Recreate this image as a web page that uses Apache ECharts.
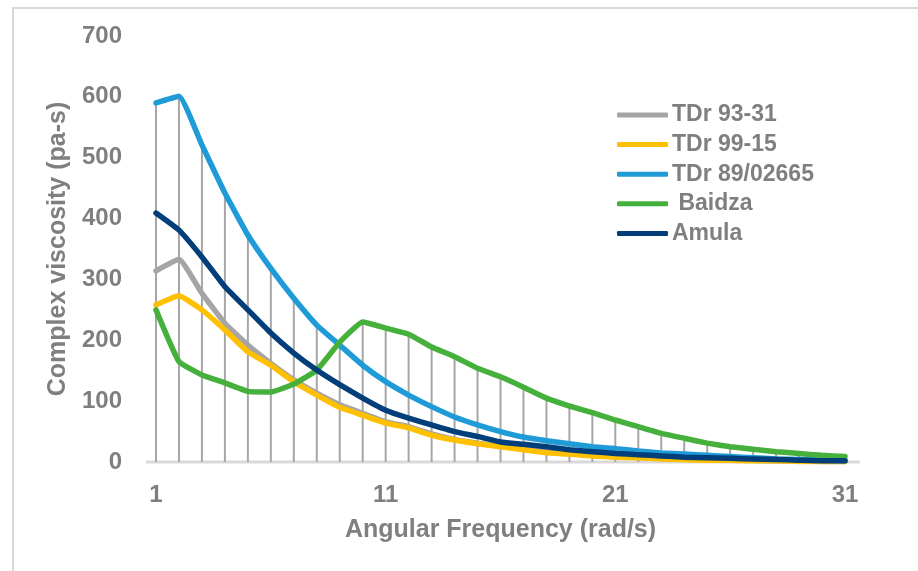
<!DOCTYPE html>
<html>
<head>
<meta charset="utf-8">
<script src="https://cdn.jsdelivr.net/npm/echarts@6/dist/echarts.min.js"></script>
<style>
html,body{margin:0;padding:0;background:#fff;}
#c{width:918px;height:571px;}
</style>
</head>
<body>
<div id="c"></div>
<script>
var categories = [];
for (var i = 1; i <= 31; i++) categories.push(String(i));

var seriesNames = ['TDr 93-31', 'TDr 99-15', 'TDr 89/02665', ' Baidza', 'Amula'];
var tdr9331 = [314, 333, 277, 228, 192, 162, 135, 113, 94, 80, 66, 58, 46, 37, 31, 26, 21, 16, 14, 11, 9, 8, 6, 5, 4, 3, 3, 2, 2, 1, 1];
var tdr9915 = [258, 273, 250, 217, 181, 159, 132, 110, 90, 77, 64, 56, 44, 36, 30, 25, 20, 15, 13, 10, 8, 7, 5, 4, 3, 3, 2, 2, 1, 1, 1];
var tdr8902665 = [590, 601, 521, 442, 373, 318, 269, 225, 192, 159, 132, 110, 91, 74, 61, 50, 41, 35, 30, 25, 22, 18, 15, 13, 11, 9, 7, 5, 4, 3, 2];
var baidza = [250, 165, 143, 130, 116, 115, 128, 151, 197, 230, 220, 210, 189, 173, 154, 140, 123, 105, 92, 81, 69, 58, 47, 39, 31, 25, 21, 17, 14, 11, 9];
var amula = [409, 381, 337, 288, 250, 212, 179, 151, 127, 105, 85, 72, 61, 50, 42, 33, 29, 25, 20, 17, 14, 12, 10, 8, 7, 6, 5, 4, 3, 2, 2];
var yTicks = [0, 100, 200, 300, 400, 500, 600, 700];

var allSeries = [tdr9331, tdr9915, tdr8902665, baidza, amula];
var colors = ['#a5a5a5', '#ffc000', '#1f9bd8', '#46b03d', '#023f7a'];
var dropValues = categories.map(function (_, i) {
  return Math.max.apply(null, allSeries.map(function (s) { return s[i]; }));
});

var FONT = '"Liberation Sans", Arial, sans-serif';
var GRAY = '#7f7f7f';

var series = [{
  name: 'drop',
  type: 'bar',
  data: dropValues,
  barWidth: 2,
  itemStyle: { color: '#a6a6a6' },
  silent: true,
  z: 1
}];
allSeries.forEach(function (d, i) {
  series.push({
    name: seriesNames[i],
    type: 'line',
    data: d,
    smooth: 0.12,
    showSymbol: false,
    symbol: 'none',
    lineStyle: { width: 5.5, color: colors[i], cap: 'round', join: 'round' },
    itemStyle: { color: colors[i] },
    z: 3 + i
  });
});

var chart = echarts.init(document.getElementById('c'), null, { renderer: 'canvas' });
chart.setOption({
  animation: false,
  backgroundColor: '#fff',
  grid: { left: 156, right: 73, top: 36, bottom: 109 },
  graphic: [
    { type: 'rect', shape: { x: 13, y: 8, width: 1000, height: 1000 }, style: { fill: 'none', stroke: '#d9d9d9', lineWidth: 2 }, z: 0, silent: true },
    { type: 'line', shape: { x1: 146, y1: 462, x2: 860, y2: 462 }, style: { stroke: '#d9d9d9', lineWidth: 3 }, z: 0, silent: true }
  ],
  legend: {
    orient: 'vertical',
    left: 617,
    top: 102,
    padding: 0,
    data: seriesNames,
    icon: 'roundRect',
    itemWidth: 51,
    itemHeight: 5,
    itemGap: 3.6,
    textStyle: { color: GRAY, fontFamily: FONT, fontWeight: 'bold', fontSize: 23, lineHeight: 26, padding: [0, 0, 0, -1] }
  },
  xAxis: {
    type: 'category',
    data: categories,
    boundaryGap: false,
    axisLine: { show: false },
    axisTick: { show: false },
    axisLabel: { interval: 9, color: GRAY, fontFamily: FONT, fontWeight: 'bold', fontSize: 24, margin: 21 },
    name: 'Angular Frequency (rad/s)',
    nameLocation: 'middle',
    nameGap: 56,
    nameTextStyle: { color: GRAY, fontFamily: FONT, fontWeight: 'bold', fontSize: 25 }
  },
  yAxis: {
    type: 'value',
    min: yTicks[0],
    max: yTicks[yTicks.length - 1],
    interval: 100,
    splitLine: { show: false },
    axisLine: { show: false },
    axisTick: { show: false },
    axisLabel: { color: GRAY, fontFamily: FONT, fontWeight: 'bold', fontSize: 24, margin: 34 },
    name: 'Complex viscosity (pa-s)',
    nameLocation: 'middle',
    nameGap: 82,
    nameTextStyle: { color: GRAY, fontFamily: FONT, fontWeight: 'bold', fontSize: 25 }
  },
  series: series
});
</script>
</body>
</html>
